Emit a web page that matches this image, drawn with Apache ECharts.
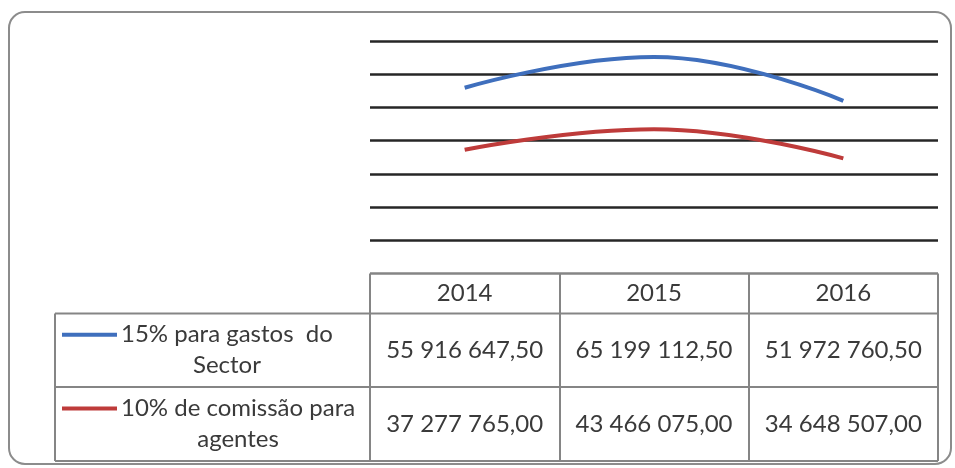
<!DOCTYPE html>
<html>
<head>
<meta charset="utf-8">
<script src="https://cdn.jsdelivr.net/npm/echarts@6/dist/echarts.min.js"></script>
<style>
  html, body { margin: 0; padding: 0; background: #fff; }
  #chart { width: 955px; height: 468px; }
</style>
</head>
<body>
<div id="chart"></div>
<script>
// dados do gráfico
const years = ['2014', '2015', '2016']
const seriesNames = ['15% para gastos  do\nSector', '10% de comissão para\nagentes']
const gastosSector = [55916647.5, 65199112.5, 51972760.5]
const comissaoAgentes = [37277765, 43466075, 34648507]
const seriesColors = ['#3F6FBD', '#BE3B3A']

const textColor = '#3a3a3a'
const tableColor = '#858585'
const font = 'Lato, "Open Sans", sans-serif'
const fontSize = 24

// 55 916 647,50
function fmt (v) {
  const parts = v.toFixed(2).split('.')
  return parts[0].replace(/\B(?=(\d{3})+(?!\d))/g, ' ') + ',' + parts[1]
}

// largura do texto para centrar as linhas da legenda
const measureCtx = document.createElement('canvas').getContext('2d')
measureCtx.font = fontSize + 'px ' + font
function textWidth (s) {
  return Math.max(...s.split('\n').map(l => measureCtx.measureText(l).width))
}

const chart = echarts.init(document.getElementById('chart'))

// eixo zero = topo da tabela
const gridRight = 938
const gridTop = 41
const axisY = 273.5
const rowTops = [313.5, 387, 461]

const rowAxis = (values, margin) => ({
  type: 'category',
  data: values.map(fmt),
  position: 'bottom',
  axisLine: { show: false },
  axisTick: { show: false },
  axisLabel: {
    interval: 0,
    hideOverlap: false,
    margin: margin,
    color: textColor,
    fontFamily: font,
    fontSize: fontSize,
    verticalAlign: 'middle'
  }
})

const tableLine = (x1, y1, x2, y2) => ({
  type: 'line',
  shape: { x1, y1, x2, y2 },
  style: { stroke: tableColor, lineWidth: 2 }
})

const graphics = [
  // moldura arredondada
  {
    type: 'rect',
    shape: { x: 9, y: 12, width: 942, height: 452, r: 16 },
    style: { fill: 'none', stroke: '#8c8c8c', lineWidth: 2 },
    silent: true
  },
  tableLine(55, rowTops[0], gridRight, rowTops[0]),
  tableLine(55, rowTops[1], gridRight, rowTops[1]),
  tableLine(55, rowTops[2], gridRight, rowTops[2]),
  tableLine(55, rowTops[0], 55, rowTops[2])
]

// legenda dentro da tabela
seriesNames.forEach((name, i) => {
  const mid = (rowTops[i] + rowTops[i + 1]) / 2
  graphics.push({
    type: 'line',
    shape: { x1: 62, y1: mid - 15.5, x2: 117, y2: mid - 15.5 },
    style: { stroke: seriesColors[i], lineWidth: 4 }
  })
  graphics.push({
    type: 'text',
    style: {
      text: name,
      x: 121 + textWidth(name) / 2,
      y: mid,
      align: 'center',
      verticalAlign: 'middle',
      lineHeight: 31,
      fill: textColor,
      font: fontSize + 'px ' + font
    }
  })
})

const option = {
  animation: false,
  grid: {
    left: 370,
    right: 955 - gridRight,
    top: gridTop,
    bottom: 468 - axisY
  },
  xAxis: [
    {
      type: 'category',
      data: years,
      boundaryGap: true,
      axisLine: { show: false },
      axisTick: {
        show: true,
        length: rowTops[2] - axisY,
        lineStyle: { color: tableColor, width: 2 }
      },
      axisLabel: {
        interval: 0,
        margin: (rowTops[0] - axisY) / 2,
        color: textColor,
        fontFamily: font,
        fontSize: fontSize,
        verticalAlign: 'middle'
      }
    },
    rowAxis(gastosSector, (rowTops[0] + rowTops[1]) / 2 - axisY),
    rowAxis(comissaoAgentes, (rowTops[1] + rowTops[2]) / 2 - axisY)
  ],
  yAxis: {
    type: 'value',
    min: 0,
    max: 70000000,
    interval: 10000000,
    axisLabel: { show: false },
    axisLine: { show: false },
    axisTick: { show: false },
    splitLine: {
      show: true,
      lineStyle: {
        color: [tableColor, '#262626', '#262626', '#262626', '#262626', '#262626', '#262626', '#262626'],
        width: 2.5
      }
    }
  },
  series: [
    {
      name: seriesNames[0],
      type: 'line',
      data: gastosSector,
      smooth: 0.45,
      symbol: 'none',
      lineStyle: { color: seriesColors[0], width: 4 },
      z: 3
    },
    {
      name: seriesNames[1],
      type: 'line',
      data: comissaoAgentes,
      smooth: 0.45,
      symbol: 'none',
      lineStyle: { color: seriesColors[1], width: 4 },
      z: 3
    }
  ],
  graphic: graphics
}

chart.setOption(option)
</script>
</body>
</html>
